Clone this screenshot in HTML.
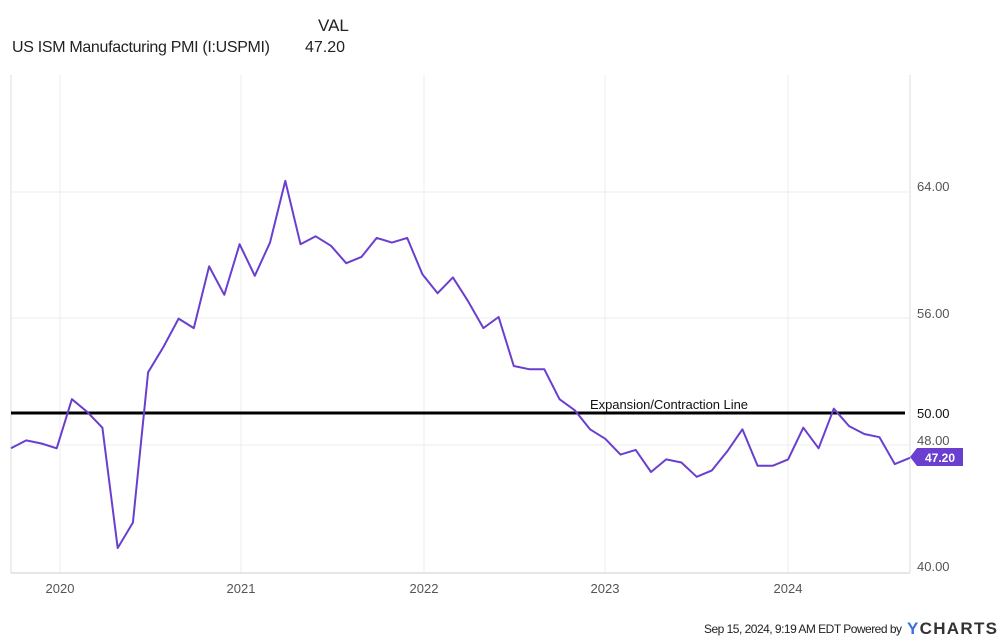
<!DOCTYPE html>
<html><head><meta charset="utf-8"><style>
body{margin:0;background:#fff;font-family:"Liberation Sans",sans-serif;}
svg{display:block}
</style></head><body>
<svg id="s" width="1000" height="641" xmlns="http://www.w3.org/2000/svg" font-family="Liberation Sans, sans-serif">
<text x="318" y="31" font-size="17" fill="#222">VAL</text>
<text x="12" y="52" font-size="16" fill="#222" textLength="258">US ISM Manufacturing PMI (I:USPMI)</text>
<text x="305" y="52" font-size="16" fill="#222">47.20</text>
<g stroke="#ececec" stroke-width="1">
<line x1="60" y1="75" x2="60" y2="573"/><line x1="241" y1="75" x2="241" y2="573"/>
<line x1="424" y1="75" x2="424" y2="573"/><line x1="605" y1="75" x2="605" y2="573"/>
<line x1="788" y1="75" x2="788" y2="573"/>
<line x1="11" y1="192" x2="910" y2="192"/><line x1="11" y1="318" x2="910" y2="318"/>
<line x1="11" y1="445" x2="910" y2="445"/>
</g>
<line x1="11" y1="75" x2="11" y2="573" stroke="#ddd"/>
<line x1="910" y1="75" x2="910" y2="573" stroke="#ddd"/>
<line x1="11" y1="573" x2="910" y2="573" stroke="#ccc"/>
<g font-size="13" fill="#555" text-anchor="middle">
<text x="60" y="593">2020</text><text x="241" y="593">2021</text><text x="424" y="593">2022</text>
<text x="605" y="593">2023</text><text x="788" y="593">2024</text>
</g>
<g font-size="13" fill="#555">
<text x="917" y="191">64.00</text><text x="917" y="318">56.00</text>
<text x="917" y="445">48.00</text><text x="917" y="571">40.00</text>
<text x="917" y="418" fill="#111">50.00</text>
</g>
<line x1="11" y1="413" x2="905" y2="413" stroke="#000" stroke-width="3"/>
<text x="590" y="409" font-size="13" fill="#111" textLength="158">Expansion/Contraction Line</text>
<polyline id="p" fill="none" stroke="#6a3fd0" stroke-width="2" stroke-linejoin="round"/>
<path d="M910 457 L917 448 H963 V466 H917 Z" fill="#6a3fd0"/>
<text x="940" y="462" font-size="12" font-weight="bold" fill="#fff" text-anchor="middle">47.20</text>
<text x="704" y="633" font-size="12" fill="#222" textLength="198">Sep 15, 2024, 9:19 AM EDT Powered by</text>
<text x="907" y="634" font-size="17" font-weight="bold" fill="#333" textLength="90"><tspan fill="#3b6fe0">Y</tspan>CHARTS</text>
</svg>
<script>
var d=[47.8,48.3,48.1,47.8,50.9,50.1,49.1,41.5,43.1,52.6,54.2,56.0,55.4,59.3,57.5,60.7,58.7,60.8,64.7,60.7,61.2,60.6,59.5,59.9,61.1,60.8,61.1,58.8,57.6,58.6,57.1,55.4,56.1,53.0,52.8,52.8,50.9,50.2,49.0,48.4,47.4,47.7,46.3,47.1,46.9,46.0,46.4,47.6,49.0,46.7,46.7,47.1,49.1,47.8,50.3,49.2,48.7,48.5,46.8,47.2];
var pts=[];
for(var i=0;i<d.length;i++){var x=11+i*(899/59);
pts.push(x.toFixed(1)+","+(192+(64-d[i])*15.82).toFixed(1));}
document.getElementById("p").setAttribute("points",pts.join(" "));
</script>
</body></html>
